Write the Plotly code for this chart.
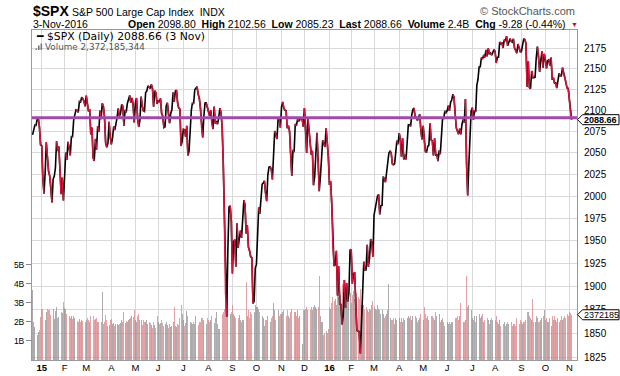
import math
import numpy as np
import pandas as pd
import plotly.graph_objects as go

# ---------------- data (daily closes of $SPX) ----------------
dec14 = [2070.65, 2078.54, 2082.17, 2081.88, 2088.77, 2090.57, 2080.35, 2058.90]
jan15 = [2058.20, 2020.58, 2002.61, 2025.90, 2062.14, 2044.81, 2028.26, 2023.03, 2011.27, 1992.67,
         2019.42, 2022.55, 2032.12, 2063.15, 2051.82, 2057.09, 2029.55, 2002.16, 2021.25, 1994.99]
feb15 = [2020.85, 2050.03, 2041.51, 2062.52, 2055.47, 2046.74, 2068.59, 2068.53, 2088.48, 2096.99,
         2100.34, 2099.68, 2097.45, 2110.30, 2109.66, 2115.48, 2113.86, 2110.74, 2104.50]
mar15 = [2117.39, 2107.78, 2098.53, 2101.04, 2071.26, 2079.43, 2044.16, 2040.24, 2065.95, 2053.40,
         2081.19, 2074.28, 2099.50, 2089.27, 2108.10, 2104.42, 2091.50, 2061.05, 2056.15, 2061.02,
         2086.24, 2067.89]
apr15 = [2059.69, 2066.96, 2080.62, 2076.33, 2081.90, 2091.18, 2102.06, 2092.43, 2095.84, 2106.63,
         2104.99, 2081.18, 2100.40, 2097.29, 2107.96, 2112.93, 2117.69, 2108.92, 2114.76, 2106.85,
         2085.51]
may15 = [2108.29, 2114.49, 2089.46, 2080.15, 2088.00, 2116.10, 2105.33, 2099.12, 2098.48, 2121.10,
         2122.73, 2129.20, 2127.83, 2125.85, 2130.82, 2126.06, 2104.20, 2123.48, 2120.79, 2107.39]
jun15 = [2111.73, 2109.60, 2114.07, 2095.84, 2092.83, 2079.28, 2080.15, 2105.20, 2108.86, 2094.11,
         2084.43, 2096.29, 2100.44, 2121.24, 2109.99, 2122.85, 2124.20, 2108.58, 2102.31, 2101.49,
         2057.64, 2063.11]
jul15 = [2077.42, 2076.78, 2068.76, 2081.34, 2046.68, 2051.31, 2076.62, 2099.60, 2108.95, 2107.40,
         2124.29, 2126.64, 2128.28, 2119.21, 2114.15, 2102.15, 2079.65, 2067.64, 2093.25, 2108.57,
         2108.63, 2103.84]
aug15 = [2098.04, 2093.32, 2099.84, 2083.56, 2077.57, 2104.18, 2084.07, 2086.05, 2083.39, 2091.54,
         2102.44, 2096.92, 2079.61, 2035.73, 1970.89, 1893.21, 1867.61, 1940.51, 1987.66, 1988.87,
         1972.18]
sep15 = [1913.85, 1948.86, 1951.13, 1921.22, 1969.41, 1942.04, 1952.29, 1961.05, 1953.03, 1978.09,
         1995.31, 1990.20, 1958.03, 1966.97, 1942.74, 1938.76, 1932.24, 1931.34, 1881.77, 1884.09,
         1920.03]
oct15 = [1923.82, 1951.36, 1987.05, 1979.92, 1995.83, 2013.43, 2014.89, 2017.46, 2003.69, 1994.24,
         2023.86, 2033.11, 2033.66, 2030.77, 2018.94, 2052.51, 2075.15, 2071.18, 2065.89, 2090.35,
         2089.41, 2079.36]
nov15 = [2104.05, 2109.79, 2102.31, 2099.93, 2099.20, 2078.58, 2081.72, 2075.00, 2045.97, 2023.04,
         2053.19, 2050.44, 2083.58, 2081.24, 2089.17, 2086.59, 2089.14, 2088.87, 2090.11, 2080.41]
dec15 = [2102.63, 2079.51, 2049.62, 2091.69, 2077.07, 2063.59, 2047.62, 2052.23, 2012.37, 2021.94,
         2043.41, 2073.07, 2041.89, 2005.55, 2021.15, 2038.97, 2064.29, 2060.99, 2056.50, 2078.36,
         2063.36, 2043.94]
jan16 = [2012.66, 2016.71, 1990.26, 1943.09, 1922.03, 1923.67, 1938.68, 1890.28, 1921.84, 1880.33,
         1881.33, 1859.33, 1868.99, 1906.90, 1877.08, 1903.63, 1882.95, 1893.36, 1940.24]
feb16 = [1939.38, 1903.03, 1912.53, 1915.45, 1880.05, 1853.44, 1852.21, 1851.86, 1829.08, 1864.78,
         1895.58, 1926.82, 1917.83, 1917.78, 1945.50, 1921.27, 1929.80, 1951.70, 1948.05, 1932.23]
mar16 = [1978.35, 1986.45, 1993.40, 1999.99, 2001.76, 1979.26, 1989.26, 1989.57, 2022.19, 2019.64,
         2015.93, 2027.22, 2040.59, 2049.58, 2051.60, 2049.80, 2036.71, 2035.94, 2037.05, 2055.01,
         2063.95, 2059.74]
apr16 = [2072.78, 2066.13, 2045.17, 2066.66, 2041.91, 2047.60, 2041.99, 2061.72, 2082.42, 2082.78,
         2080.73, 2094.34, 2100.80, 2102.40, 2091.48, 2091.58, 2087.79, 2091.70, 2095.15, 2075.81,
         2065.30]
may16 = [2081.43, 2063.37, 2051.12, 2050.63, 2057.14, 2058.69, 2084.39, 2064.46, 2064.11, 2046.61,
         2066.66, 2047.21, 2047.63, 2040.04, 2052.32, 2048.04, 2076.06, 2090.54, 2090.10, 2099.06,
         2096.95]
jun16 = [2099.33, 2105.26, 2099.13, 2109.41, 2112.13, 2119.12, 2115.48, 2096.07, 2079.06, 2075.32,
         2071.50, 2077.99, 2071.22, 2083.25, 2088.90, 2085.45, 2113.32, 2037.41, 2000.54, 2036.09,
         2070.77, 2098.86]
jul16 = [2102.95, 2088.55, 2099.73, 2097.90, 2129.90, 2137.16, 2152.14, 2152.43, 2163.75, 2161.74,
         2166.89, 2163.78, 2173.02, 2165.17, 2175.03, 2168.48, 2169.18, 2166.58, 2170.06, 2173.60]
aug16 = [2170.84, 2157.03, 2163.79, 2164.25, 2182.87, 2180.89, 2181.74, 2175.49, 2185.79, 2184.05,
         2190.15, 2178.15, 2182.22, 2187.02, 2183.87, 2182.64, 2186.90, 2175.44, 2172.47, 2169.04,
         2180.38, 2176.12, 2170.95]
sep16 = [2170.86, 2179.98, 2186.48, 2186.16, 2181.30, 2127.81, 2159.04, 2127.02, 2125.77, 2147.26,
         2139.16, 2139.12, 2139.76, 2163.12, 2177.18, 2164.69, 2146.10, 2159.93, 2171.37, 2151.13,
         2168.27]
oct16 = [2161.20, 2150.49, 2159.73, 2160.77, 2153.74, 2163.66, 2136.73, 2139.18, 2132.55, 2132.98,
         2126.50, 2139.60, 2144.29, 2141.34, 2141.16, 2151.33, 2143.16, 2139.43, 2133.04, 2126.41,
         2126.15]
nov16 = [2111.72, 2097.94, 2088.66]

# daily volume, billions of shares
vdec14 = [3.65, 2.0, 1.75, 0.8, 1.3, 1.45, 1.55, 2.25]
vjan15 = [2.65, 2.65, 2.35, 2.1, 2.5, 2.7, 2.6, 2.6, 2.35, 2.5, 2.7, 2.15, 2.55, 2.8, 2.2, 2.25, 2.6, 2.5, 2.45, 3.05]
vfeb15 = [2.75, 2.7, 2.4, 2.35, 2.3, 2.2, 2.3, 2.15, 2.3, 2.2, 2.15, 2.05, 2.0, 2.15, 2.0, 2.1, 2.05, 2.15, 2.0]
vmar15 = [2.1, 2.2, 2.1, 2.0, 2.3, 2.0, 2.3, 2.1, 2.15, 2.2, 2.0, 2.0, 2.2, 2.0, 3.55, 1.9, 2.0, 2.35, 2.1, 1.8, 1.85, 2.1]
vapr15 = [2.15, 1.9, 1.95, 1.8, 1.9, 1.9, 1.85, 1.9, 1.95, 2.1, 2.0, 2.5, 1.95, 2.05, 2.0, 2.1, 2.15, 2.2, 2.3, 2.25, 2.6]
vmay15 = [2.1, 2.0, 2.3, 2.4, 2.1, 2.1, 1.85, 2.1, 2.0, 2.0, 2.1, 1.9, 2.0, 1.95, 1.85, 1.7, 2.0, 1.85, 1.7, 2.3]
vjun15 = [2.0, 1.9, 1.95, 2.1, 1.95, 1.8, 1.9, 2.0, 1.85, 1.7, 1.9, 1.75, 1.8, 2.0, 2.8, 1.8, 1.75, 1.9, 1.85, 2.2, 2.9, 2.4]
vjul15 = [2.1, 1.8, 1.95, 2.55, 2.3, 2.2, 2.0, 1.95, 1.9, 2.0, 1.9, 2.3, 1.8, 1.85, 2.0, 2.0, 2.2, 2.2, 2.1, 2.05, 1.9, 2.2]
vaug15 = [2.1, 2.0, 2.1, 2.3, 2.1, 1.95, 2.2, 2.5, 1.9, 1.6, 1.6, 1.55, 2.4, 2.5, 2.7, 2.9, 2.8, 3.75, 3.3, 2.4, 2.5]
vsep15 = [2.9, 2.4, 2.3, 2.2, 2.3, 2.2, 2.35, 2.1, 2.0, 2.1, 2.1, 2.6, 4.1, 2.3, 2.6, 2.2, 2.5, 2.4, 2.8, 2.5, 2.9]
voct15 = [2.8, 2.8, 2.7, 2.5, 2.6, 2.3, 2.2, 1.8, 2.1, 2.1, 2.3, 2.4, 2.0, 2.2, 2.3, 3.0, 2.6, 2.1, 2.4, 2.6, 2.3, 2.4]
vnov15 = [2.4, 2.5, 2.6, 2.4, 2.3, 2.6, 2.3, 2.2, 2.5, 2.7, 2.4, 2.5, 2.5, 2.3, 2.6, 2.2, 2.3, 1.9, 0.85, 2.6]
vdec15 = [2.6, 2.7, 2.8, 2.6, 2.5, 2.6, 2.8, 2.6, 2.8, 2.9, 2.8, 2.7, 2.8, 4.4, 2.3, 2.0, 2.0, 1.3, 1.4, 1.5, 1.4, 1.6]
vjan16 = [2.8, 2.7, 3.0, 3.3, 3.1, 3.2, 2.9, 3.6, 3.3, 4.25, 3.4, 4.0, 3.3, 3.2, 2.8, 2.9, 3.0, 3.0, 3.5]
vfeb16 = [3.0, 3.4, 3.6, 3.2, 3.8, 3.5, 3.3, 3.2, 3.7, 2.9, 2.8, 2.9, 2.6, 2.8, 2.6, 2.5, 2.7, 2.6, 2.9, 3.1]
vmar16 = [2.8, 2.7, 2.6, 2.9, 2.7, 2.6, 2.4, 2.6, 2.4, 2.2, 2.3, 2.4, 2.6, 4.0, 2.2, 2.1, 2.1, 2.2, 1.9, 2.2, 2.1, 2.2]
vapr16 = [2.2, 2.0, 2.2, 2.0, 2.2, 2.1, 2.0, 2.2, 2.3, 2.2, 2.3, 2.1, 2.3, 2.4, 2.3, 2.2, 2.0, 2.1, 2.2, 2.4, 2.6]
vmay16 = [2.1, 2.8, 2.4, 2.2, 2.3, 2.1, 2.2, 2.3, 2.3, 2.2, 2.1, 2.5, 2.3, 2.3, 2.4, 2.0, 2.1, 2.2, 2.0, 1.8, 2.5]
vjun16 = [2.0, 1.9, 2.0, 1.9, 2.0, 2.0, 2.0, 2.2, 2.2, 2.3, 2.1, 2.3, 3.0, 2.1, 2.0, 2.0, 2.1, 4.4, 2.8, 2.9, 2.5, 2.6]
vjul16 = [2.2, 2.1, 2.3, 2.0, 2.3, 2.1, 2.4, 2.2, 2.3, 2.4, 2.0, 2.1, 2.2, 2.2, 2.1, 1.9, 2.1, 2.2, 2.1, 2.3]
vaug16 = [2.1, 2.3, 2.0, 1.9, 2.1, 1.8, 1.9, 1.9, 2.0, 1.8, 1.9, 2.0, 1.9, 1.8, 2.0, 1.8, 1.9, 1.9, 1.8, 2.2, 1.7, 1.9, 2.1]
vsep16 = [2.0, 1.9, 2.0, 2.0, 2.1, 2.5, 2.5, 2.3, 2.2, 2.1, 3.2, 2.0, 2.0, 2.3, 2.2, 2.0, 2.0, 2.1, 2.2, 2.3, 2.6]
voct16 = [2.1, 2.2, 2.0, 2.0, 2.2, 1.8, 2.3, 2.1, 2.3, 2.1, 2.0, 2.2, 2.0, 2.1, 2.3, 2.1, 2.2, 2.3, 2.2, 2.4, 2.3]
vnov16 = [2.5, 2.45, 2.372185344]

market_holidays = ["2014-12-25", "2015-01-01", "2015-01-19", "2015-02-16", "2015-04-03",
                   "2015-05-25", "2015-07-03", "2015-09-07", "2015-11-26", "2015-12-25",
                   "2016-01-01", "2016-01-18", "2016-02-15", "2016-03-25", "2016-05-30",
                   "2016-07-04", "2016-09-05"]

month_tick_labels = ["<b>15</b>", "F", "M", "A", "M", "J", "J", "A", "S", "O", "N", "D",
                     "<b>16</b>", "F", "M", "A", "M", "J", "J", "A", "S", "O", "N"]
price_ticks = [1825, 1850, 1875, 1900, 1925, 1950, 1975, 2000, 2025, 2050, 2075, 2100,
               2125, 2150, 2175]
volume_ticks = [1, 2, 3, 4, 5]
volume_tick_labels = ["1B", "2B", "3B", "4B", "5B"]
support_level = 2091.0

closes = (dec14 + jan15 + feb15 + mar15 + apr15 + may15 + jun15 + jul15 + aug15 + sep15 + oct15
          + nov15 + dec15 + jan16 + feb16 + mar16 + apr16 + may16 + jun16 + jul16 + aug16 + sep16
          + oct16 + nov16)
volumes = (vdec14 + vjan15 + vfeb15 + vmar15 + vapr15 + vmay15 + vjun15 + vjul15 + vaug15 + vsep15
           + voct15 + vnov15 + vdec15 + vjan16 + vfeb16 + vmar16 + vapr16 + vmay16 + vjun16 + vjul16
           + vaug16 + vsep16 + voct16 + vnov16)

dates = pd.bdate_range("2014-12-19", "2016-11-03")
dates = dates[~dates.isin(pd.to_datetime(market_holidays))]
if not (len(dates) == len(closes) == len(volumes)):
    raise ValueError(f"length mismatch {len(dates)} {len(closes)} {len(volumes)}")

n = len(closes)
xi = list(range(n))
month_starts = [i for i in range(1, n) if dates[i].month != dates[i - 1].month]

up = [True] + [closes[i] >= closes[i - 1] for i in range(1, n)]

RED_LINE = "#d8143a"
RED_BAR = "rgba(216,128,132,0.72)"
GRAY_BAR = "rgba(140,140,140,0.72)"

x_range = [-0.5, 476.7]
price_range = [math.log10(1822.2), math.log10(2197.8)]
vol_range = [0, 17.3]

fig = go.Figure()

fig.add_trace(go.Bar(
    x=xi, y=volumes, yaxis="y",
    marker=dict(color=[GRAY_BAR if u else RED_BAR for u in up], line=dict(width=0)),
    width=0.8, showlegend=False, hoverinfo="skip"))

fig.add_trace(go.Scatter(
    x=xi, y=closes, yaxis="y2", mode="lines",
    line=dict(color="#000000", width=1.6), showlegend=False, hoverinfo="skip"))

rx, ry = [], []
for i in range(1, n):
    if not up[i]:
        rx += [xi[i - 1], xi[i], None]
        ry += [closes[i - 1], closes[i], None]
fig.add_trace(go.Scatter(
    x=rx, y=ry, yaxis="y2", mode="lines", connectgaps=False,
    line=dict(color=RED_LINE, width=1.6), showlegend=False, hoverinfo="skip"))

fig.add_trace(go.Scatter(
    x=x_range, y=[support_level, support_level], yaxis="y2", mode="lines",
    line=dict(color="#a04aa8", width=3), showlegend=False, hoverinfo="skip"))

# ---------------- layout ----------------
L, R, T, B = 32, 43, 30, 16
W, H = 620, 376
PW, PH = W - L - R, H - T - B


def pp(xp, yp):
    return (xp - L) / PW, (H - B - yp) / PH


GRID = "#d9d9d9"
AX = "#9a9a9a"
FONT = "Liberation Sans, Arial, sans-serif"

fig.update_layout(
    width=W, height=H, margin=dict(l=L, r=R, t=T, b=B, autoexpand=False),
    paper_bgcolor="white", plot_bgcolor="white",
    font=dict(family=FONT, size=10, color="#000"),
    bargap=0, showlegend=False,
    xaxis=dict(range=x_range, tickvals=[xi[i] for i in month_starts], ticktext=month_tick_labels,
               showgrid=True, gridcolor=GRID, gridwidth=1, zeroline=False, automargin=False,
               showline=True, linecolor=AX, mirror=True, ticks="", ticklabelstandoff=-1,
               tickfont=dict(size=9.5)),
    yaxis=dict(range=vol_range, side="left", tickvals=volume_ticks, ticktext=volume_tick_labels,
               showgrid=False, zeroline=False, showline=True, linecolor=AX, automargin=False,
               ticks="outside", ticklen=5, tickcolor="#888", tickfont=dict(size=8.5)),
    yaxis2=dict(type="log", range=price_range, overlaying="y", side="right", automargin=False,
                tickvals=price_ticks, ticktext=[str(v) for v in price_ticks],
                showgrid=True, gridcolor=GRID, zeroline=False, showline=True, linecolor=AX,
                ticks="outside", ticklen=4, tickcolor="rgba(0,0,0,0)", tickfont=dict(size=10)),
)

ann = []


def add_text(xp, yp, text, size, anchor="left", color="#000", family=FONT):
    ax_, ay_ = pp(xp, yp)
    ann.append(dict(xref="paper", yref="paper", x=ax_, y=ay_, text=text, showarrow=False,
                    xanchor=anchor, yanchor="middle", font=dict(size=size, color=color, family=family)))


add_text(31, 11.5, "<b>$SPX</b>", 14)
add_text(70, 12, "S&amp;P 500 Large Cap Index  INDX", 10.5)
add_text(577, 11, "© StockCharts.com", 11, anchor="right", color="#555")
add_text(31, 24, "3-Nov-2016", 10.5)
add_text(568, 24, "<b>Open</b> 2098.80  <b>High</b> 2102.56  <b>Low</b> 2085.23  "
                  "<b>Last</b> 2088.66  <b>Volume</b> 2.4B  <b>Chg</b> -9.28 (-0.44%)",
         10.5, anchor="right")
add_text(569, 24.5, "▼", 7, color="#c0103a")
add_text(34, 36.5, "<b>━</b> $SPX (Daily) 2088.66 (3 Nov)", 10.8,
         family="DejaVu Sans, Verdana, sans-serif")
add_text(43, 47, "Volume 2,372,185,344", 8.8, color="#555",
         family="DejaVu Sans, Verdana, sans-serif")

# pointer labels on the right edge
price_frac = (math.log10(closes[-1]) - price_range[0]) / (price_range[1] - price_range[0])
vol_frac = (volumes[-1] - vol_range[0]) / (vol_range[1] - vol_range[0])

ann.append(dict(xref="paper", yref="paper", x=1, y=price_frac, xanchor="left",
                xshift=6, yanchor="middle", showarrow=False, borderpad=0,
                text="<b>2088.66</b>", font=dict(size=9, color="#000", family=FONT)))
ann.append(dict(xref="paper", yref="paper", x=1, y=vol_frac, xanchor="left",
                xshift=5.5, yanchor="middle", showarrow=False, borderpad=0,
                text="2372185", font=dict(size=9, color="#000", family=FONT)))
fig.update_layout(annotations=ann)

pointer = "M0.5,0 L5.5,-5 L42,-5 L42,5 L5.5,5 Z"
shapes = [
    dict(type="path", xref="paper", yref="paper", xsizemode="pixel", ysizemode="pixel",
         xanchor=1, yanchor=price_frac, path=pointer, line=dict(color="#000", width=1),
         fillcolor="white", layer="above"),
    dict(type="path", xref="paper", yref="paper", xsizemode="pixel", ysizemode="pixel",
         xanchor=1, yanchor=vol_frac, path=pointer, line=dict(color="#000", width=1),
         fillcolor="white", layer="above"),
]
# tiny volume icon in the legend
for (x0, y0) in [(35.5, 48.5), (38, 45.5), (40.5, 43.5)]:
    a0, b0 = pp(x0, y0)
    a1, b1 = pp(x0 + 1.6, 50)
    shapes.append(dict(type="rect", xref="paper", yref="paper", x0=a0, x1=a1, y0=b1, y1=b0,
                       line=dict(width=0), fillcolor="#777"))
fig.update_layout(shapes=shapes)

fig.write_html("out.html", config={"displayModeBar": False, "responsive": False},
               post_script="document.body.style.margin='0';document.body.style.overflow='hidden';")
